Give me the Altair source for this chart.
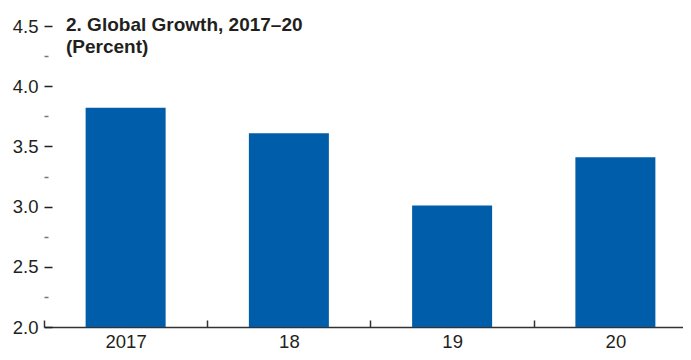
import altair as alt
import pandas as pd

years = ["2017", "18", "19", "20"]
growth = [3.82, 3.61, 3.01, 3.41]
y_major = [2.0, 2.5, 3.0, 3.5, 4.0, 4.5]
y_minor = [2.25, 2.75, 3.25, 3.75, 4.25]
title_lines = ["2. Global Growth, 2017\u201320", "\u00a0\u00a0\u00a0\u00a0(Percent)"]

df = pd.DataFrame({"year": years, "growth": growth})

TXT = "#231f20"
BLUE = "#005DAA"
FONT = "Liberation Sans"
SLOT = 163.25

xscale = alt.Scale(domain=years, range=[0, 4 * SLOT], paddingInner=0.51, paddingOuter=0.255)
yscale = alt.Scale(domain=[2.0, 4.5], nice=False, zero=False)

base = alt.Chart(df)

bars = base.mark_bar(color=BLUE, clip=True).encode(
    x=alt.X("year:N", sort=years, scale=xscale,
            axis=alt.Axis(orient="bottom", title=None, ticks=True,
                          tickSize=alt.ExprRef(expr="-7"),
                          tickOffset=-SLOT / 2, labelOffset=SLOT / 2,
                          tickWidth=1.5, tickColor="#333333",
                          domain=True, domainColor="#333333", domainWidth=1.5,
                          labelAngle=0, labelFont=FONT, labelFontSize=18.5,
                          labelColor=TXT, labelPadding=12)),
    y=alt.Y("growth:Q", scale=yscale,
            axis=alt.Axis(orient="left", title=None, values=y_major, format=".1f",
                          domain=False, grid=False, ticks=True,
                          tickSize=alt.ExprRef(expr="-8"),
                          tickWidth=1.5, tickColor=TXT,
                          labelFont=FONT, labelFontSize=18.5, labelColor=TXT,
                          labelPadding=14)),
)

minor = base.mark_bar(opacity=0, clip=True).encode(
    y=alt.Y("growth:Q", scale=yscale,
            axis=alt.Axis(orient="left", title=None, values=y_minor, labels=False,
                          domain=False, grid=False, ticks=True,
                          tickSize=alt.ExprRef(expr="-4"),
                          tickWidth=1.5, tickColor="#777777")),
)

chart = alt.layer(bars, minor).resolve_scale(
    y="shared"
).resolve_axis(
    y="independent"
).properties(
    width=639,
    height=301,
    background="white",
    autosize=alt.AutoSizeParams(type="none"),
    padding={"left": 36, "top": 18, "right": 0, "bottom": 25},
    title=alt.TitleParams(
        text=title_lines, anchor="start", orient="top", frame="group",
        dx=22, offset=-55, baseline="alphabetic",
        font=FONT, fontSize=19, fontWeight="bold",
        lineHeight=22, color=TXT,
    ),
).configure_view(strokeWidth=0)

chart.save("out.html", embed_options={"renderer": "svg", "actions": False})
